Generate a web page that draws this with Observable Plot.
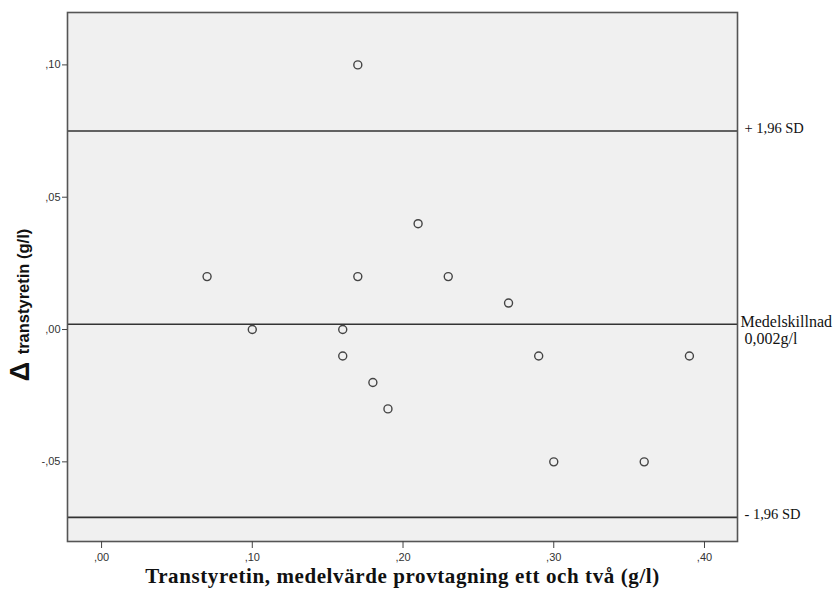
<!DOCTYPE html>
<html>
<head>
<meta charset="utf-8">
<script src="https://cdn.jsdelivr.net/npm/d3@7"></script>
<script src="https://cdn.jsdelivr.net/npm/@observablehq/plot@0.6"></script>
<style>
  html, body { margin: 0; padding: 0; background: #fff; }
  #chart svg { display: block; }
</style>
</head>
<body>
<div id="chart"></div>
<script>
// Bland–Altman plot: transthyretin, sample one vs sample two
const meanX = [0.07, 0.10, 0.16, 0.16, 0.17, 0.17, 0.18, 0.19, 0.21, 0.23, 0.27, 0.29, 0.30, 0.36, 0.39];
const diffY = [0.02, 0.00, 0.00, -0.01, 0.10, 0.02, -0.02, -0.03, 0.04, 0.02, 0.01, -0.01, -0.05, -0.05, -0.01];

// Reference lines: upper limit, mean difference, lower limit
const sdValues = [0.075, -0.071];
const sdLabels = ["+ 1,96 SD", "- 1,96 SD"];
const meanValue = [0.002];
const meanLabel = ["Medelskillnad\n 0,002g/l"];

const xTicks = [0, 0.1, 0.2, 0.3, 0.4];
const yTicks = [-0.05, 0, 0.05, 0.10];

const xTitle = "Transtyretin, medelvärde provtagning ett och två (g/l)";
const yTitle = "transtyretin (g/l)";

const points = meanX.map((x, i) => ({x, y: diffY[i]}));
const sdLimits = sdValues.map((v, i) => ({v, label: sdLabels[i]}));
const meanLimit = meanValue.map((v, i) => ({v, label: meanLabel[i]}));

// SPSS-style numbers: comma decimal, no leading zero
const fmt = v => {
  const s = Math.abs(v).toFixed(2).replace(/^0/, "").replace(".", ",");
  return (v < 0 ? "-" : "") + s;
};

const xDomain = [-0.0226, 0.4219];
const yDomain = [-0.0801, 0.1198];
const serif = "Liberation Serif, Times New Roman, serif";
const sans = "Liberation Sans, Arial, sans-serif";

const chart = Plot.plot({
  width: 835,
  height: 595,
  marginLeft: 67,
  marginRight: 98,
  marginTop: 12,
  marginBottom: 54,
  style: {background: "#fff"},
  x: {domain: xDomain},
  y: {domain: yDomain},
  marks: [
    Plot.frame({fill: "#f0f0f0", stroke: "none"}),
    Plot.ruleY(sdLimits, {y: "v", stroke: "#333", strokeWidth: 1.6}),
    Plot.ruleY(meanLimit, {y: "v", stroke: "#333", strokeWidth: 1.6}),
    Plot.frame({stroke: "#555", strokeWidth: 1.6}),
    Plot.dot(points, {x: "x", y: "y", r: 4, stroke: "#444", strokeWidth: 1.4, fill: "none"}),
    Plot.axisY({
      ticks: yTicks, tickFormat: fmt, tickSize: 5, tickPadding: 2,
      stroke: "#444", fontSize: 11, fontFamily: sans, color: "#333", label: null
    }),
    Plot.axisX({
      ticks: xTicks, tickFormat: fmt, tickSize: 7, tickPadding: 5,
      stroke: "#444", fontSize: 11, fontFamily: sans, color: "#333", label: null
    }),
    Plot.text(sdLimits, {
      x: () => xDomain[1], y: "v", text: "label", textAnchor: "start",
      dx: 7, dy: -3, lineAnchor: "middle",
      fontSize: 14.5, fontFamily: serif, fill: "#111"
    }),
    Plot.text(meanLimit, {
      x: () => xDomain[1], y: "v", text: "label", textAnchor: "start",
      dx: 3, dy: 5.5, lineAnchor: "middle", lineHeight: 1.06,
      fontSize: 16, fontFamily: serif, fill: "#111"
    }),
    Plot.text([xTitle], {
      frameAnchor: "bottom", dy: 41, fontSize: 21, fontWeight: "bold",
      fontFamily: serif, fill: "#111"
    })
  ]
});

// Rotated y title with a larger delta sign
const svg = d3.select(chart);
svg.selectAll("text").filter(function() { return d3.select(this).text() === xTitle; })
  .attr("letter-spacing", "0.6px");
const t = svg.append("text")
  .attr("transform", "translate(29,305) rotate(-90)")
  .attr("text-anchor", "middle")
  .attr("font-family", sans)
  .attr("font-weight", "bold")
  .attr("fill", "#111");
t.append("tspan").attr("font-size", 27).text("Δ ");
t.append("tspan").attr("font-size", 16.5).text(yTitle);

document.getElementById("chart").appendChild(chart);
</script>
</body>
</html>
